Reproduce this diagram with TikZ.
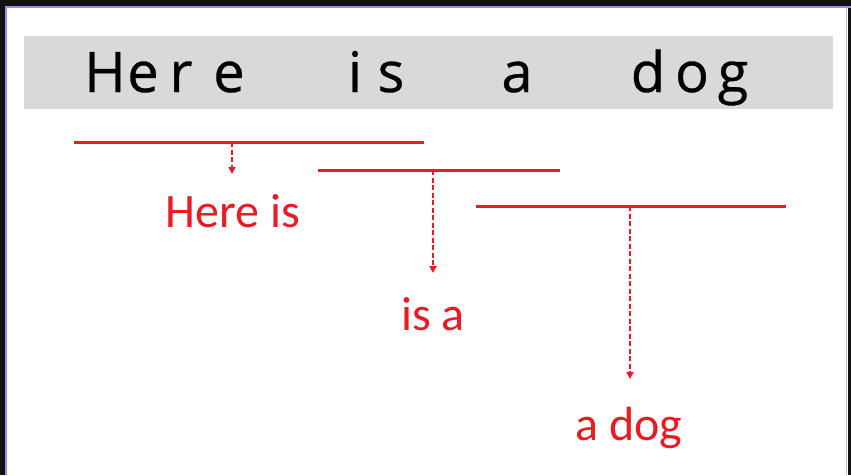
\documentclass[tikz,border=0pt]{standalone}
\usepackage{fontspec}
\setmainfont{Open Sans}
\newfontfamily\labelfont{Carlito}
\usetikzlibrary{arrows.meta}

\definecolor{frame}{RGB}{18,18,20}
\definecolor{edge}{RGB}{152,142,228}
\definecolor{bargray}{RGB}{217,217,217}
\definecolor{spanred}{RGB}{232,28,34}

\tikzset{
  letter/.style={anchor=base, inner sep=0pt, text=black,
    font=\addfontfeatures{FakeBold=0.6}\fontsize{56}{60}\selectfont},
  span/.style={draw=spanred, line width=3pt},
  pointer/.style={draw=spanred, line width=2.3pt, dash pattern=on 5pt off 2.5pt,
    -{Triangle[length=7pt,width=7pt]}},
  ngram/.style={anchor=base, inner sep=0pt, text=spanred,
    font=\labelfont\fontsize{48}{54}\selectfont},
}

\begin{document}
\begin{tikzpicture}[x=1pt, y=-1pt]
  \useasboundingbox (0,0) rectangle (851,475);

  % window frame
  \fill[frame] (0,0) rectangle (851,475);
  \fill[white] (7,8) rectangle (848,475);
  \fill[edge] (5,6) rectangle (851,8);
  \fill[edge] (5,6) rectangle (7,475);
  \fill[black!25] (846,8) rectangle (847,475);

  % sentence bar
  \node[fill=bargray, draw=none, minimum width=809pt, minimum height=73pt,
        inner sep=0pt] (bar) at (428.5,72.5) {};

  % spaced-out sentence letters
  \node[letter] (l1)  at (105,92) {H};
  \node[letter] (l2)  at (143,92) {e};
  \node[letter] (l3)  at (181,92) {r};
  \node[letter] (l4)  at (229,92) {e};
  \node[letter] (l5)  at (355,92) {i};
  \node[letter] (l6)  at (391,92) {s};
  \node[letter] (l7)  at (517,92) {a};
  \node[letter] (l8)  at (648,92) {d};
  \node[letter] (l9)  at (692,92) {o};
  \node[letter] (l10) at (733,92) {g};

  % bigram spans
  \coordinate (a1) at (74,142);  \coordinate (b1) at (424,142);
  \coordinate (a2) at (318,170); \coordinate (b2) at (560,170);
  \coordinate (a3) at (476,206); \coordinate (b3) at (786,206);
  \draw[span] (a1) -- (b1);
  \draw[span] (a2) -- (b2);
  \draw[span] (a3) -- (b3);

  % drop points and arrow tips
  \coordinate (s1) at (232,142); \coordinate (t1) at (232,174);
  \coordinate (s2) at (433,170); \coordinate (t2) at (433,273);
  \coordinate (s3) at (630,206); \coordinate (t3) at (630,379);
  \draw[pointer] (s1) -- (t1);
  \draw[pointer] (s2) -- (t2);
  \draw[pointer] (s3) -- (t3);

  % bigram labels
  \node[ngram] (g1) at (233,227) {Here is};
  \node[ngram] (g2) at (433,330) {is a};
  \node[ngram] (g3) at (629,440) {a dog};
\end{tikzpicture}
\end{document}
